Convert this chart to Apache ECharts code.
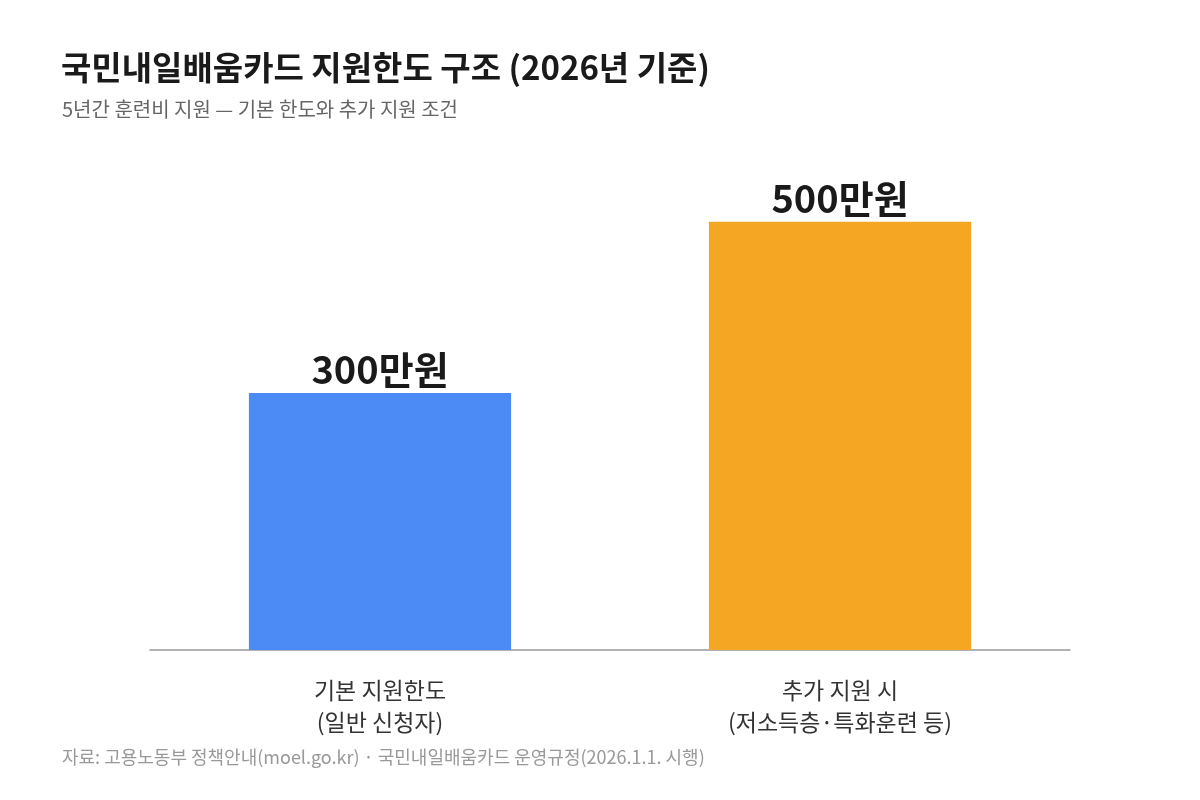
<!DOCTYPE html>
<html><head><meta charset="utf-8">
<script src="https://cdn.jsdelivr.net/npm/echarts@6/dist/echarts.min.js"></script>
<style>html,body{margin:0;background:#fff}#c{width:1200px;height:800px}</style>
</head><body><div id="c"></div>
<script>
const categories = ["기본 지원한도\n(일반 신청자)", "추가 지원 시\n(저소득층·특화훈련 등)"];
const values = [300, 500];
const colors = ["#4C8BF5", "#F5A623"];

const chart = echarts.init(document.getElementById("c"));
const font = "'Noto Sans CJK KR', 'Noto Sans', sans-serif";
chart.setOption({
  textStyle: { fontFamily: font },
  title: [
    { text: "국민내일배움카드 지원한도 구조 (2026년 기준)", left: 56, top: 46,
      textStyle: { fontSize: 33, fontWeight: "bold", color: "#1a1a1a", fontFamily: font } },
    { text: "5년간 훈련비 지원 — 기본 한도와 추가 지원 조건", left: 57, top: 94,
      textStyle: { fontSize: 20, fontWeight: "normal", color: "#666", fontFamily: font } },
    { text: "자료: 고용노동부 정책안내(moel.go.kr) · 국민내일배움카드 운영규정(2026.1.1. 시행)", left: 57, top: 743,
      textStyle: { fontSize: 18, fontWeight: "normal", color: "#999", fontFamily: font } }
  ],
  grid: { left: 150, right: 130, top: 136, bottom: 150 },
  xAxis: {
    type: "category", data: categories,
    axisLine: { lineStyle: { color: "#999", width: 1.5 } },
    axisTick: { show: false },
    axisLabel: { fontSize: 23, color: "#333", lineHeight: 32, margin: 24, fontFamily: font }
  },
  yAxis: { type: "value", min: 0, max: 600, show: false, splitLine: { show: false } },
  series: [{
    type: "bar", barWidth: "57%",
    data: values.map((v, i) => ({ value: v, itemStyle: { color: colors[i] } })),
    label: { show: true, position: "top", distance: 4, formatter: p => p.value + "만원",
      fontSize: 38, fontWeight: "bold", color: "#1a1a1a", fontFamily: font }
  }]
});
</script></body></html>
